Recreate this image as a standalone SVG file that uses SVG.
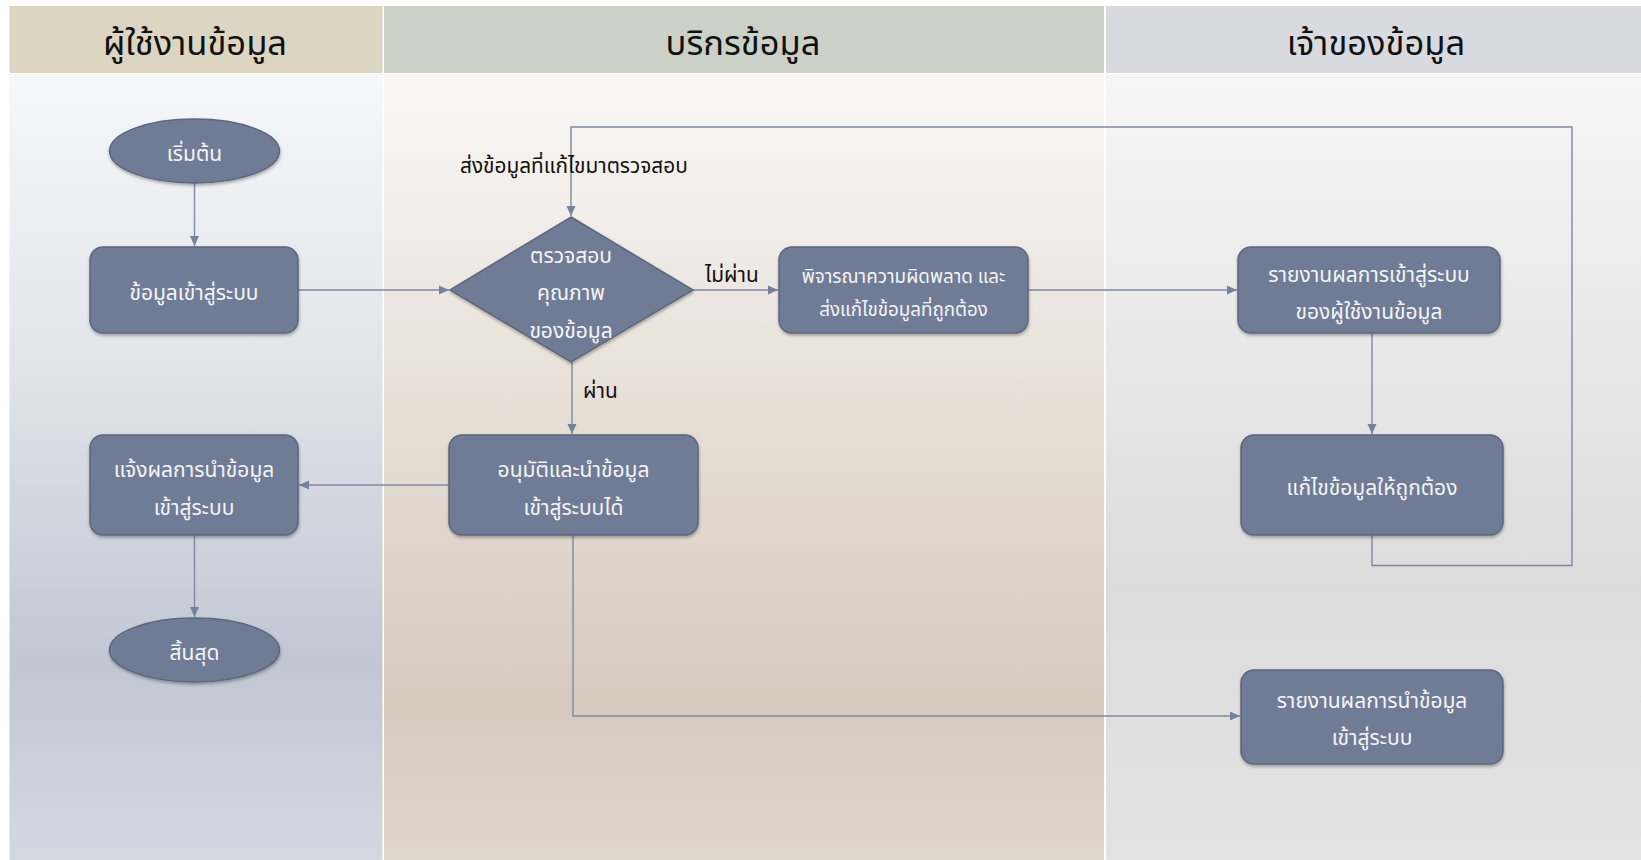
<svg xmlns="http://www.w3.org/2000/svg" width="1641" height="860" viewBox="0 0 1641 860">
<defs>
<style>
.hdr{font-family:"Noto Sans Thai","Noto Sans","DejaVu Sans",sans-serif;font-size:34.5px;fill:#111;text-anchor:middle}
.node{fill:#707C96;stroke:#5C667E;stroke-width:1.5;filter:url(#sh)}
.nt{font-family:"Noto Sans Thai","Noto Sans","DejaVu Sans",sans-serif;font-size:21px;fill:#F4F4F6;text-anchor:middle}
.sm{font-size:18.8px}
.lbl{font-family:"Noto Sans Thai","Noto Sans","DejaVu Sans",sans-serif;font-size:20.8px;fill:#111}
.con{fill:none;stroke:#8089A2;stroke-width:1.4}
</style>
<linearGradient id="g1" x1="0" y1="0" x2="0" y2="1">
<stop offset="0" stop-color="#F6F7F9"/><stop offset="0.35" stop-color="#E2E5EB"/><stop offset="0.75" stop-color="#C1C7D3"/><stop offset="1" stop-color="#D3D8E1"/>
</linearGradient>
<linearGradient id="g2" x1="0" y1="0" x2="0" y2="1">
<stop offset="0" stop-color="#F9F8F6"/><stop offset="0.4" stop-color="#E8E0D8"/><stop offset="0.8" stop-color="#D6CABF"/><stop offset="1" stop-color="#DFD6CD"/>
</linearGradient>
<linearGradient id="g3" x1="0" y1="0" x2="0" y2="1">
<stop offset="0" stop-color="#F6F6F6"/><stop offset="0.65" stop-color="#DCDCDC"/><stop offset="1" stop-color="#E3E3E3"/>
</linearGradient>
<filter id="sh" x="-10%" y="-10%" width="120%" height="130%">
<feDropShadow dx="0.5" dy="2" stdDeviation="1.5" flood-color="#000" flood-opacity="0.3"/>
</filter>
<marker id="ah" viewBox="0 0 10 10" refX="10" refY="5" markerWidth="10" markerHeight="10" markerUnits="userSpaceOnUse" orient="auto">
<path d="M0,0.5 L10,5 L0,9.5 Z" fill="#7482A0"/>
</marker>
</defs>
<rect width="1641" height="860" fill="#FFFFFF"/>
<g id="lanes">
<rect x="9.5" y="74" width="373" height="786" fill="url(#g1)"/>
<rect x="384" y="74" width="720" height="786" fill="url(#g2)"/>
<rect x="1106" y="74" width="535" height="786" fill="url(#g3)"/>
<rect x="9.5" y="6" width="373" height="67" fill="#DCD5C1"/>
<rect x="384" y="6" width="720" height="67" fill="#CBD1C6"/>
<rect x="1106" y="6" width="535" height="67" fill="#D9DAE0"/>
<text class="hdr" x="195" y="55">ผู้ใช้งานข้อมูล</text>
<text class="hdr" x="743" y="55">บริกรข้อมูล</text>
<text class="hdr" x="1376" y="55">เจ้าของข้อมูล</text>
</g>
<g id="connectors">
<path class="con" d="M194.5 183 V246" marker-end="url(#ah)"/>
<path class="con" d="M298 290 H449" marker-end="url(#ah)"/>
<path class="con" d="M693 290 H778" marker-end="url(#ah)"/>
<path class="con" d="M1028 290 H1237" marker-end="url(#ah)"/>
<path class="con" d="M1372 333 V434" marker-end="url(#ah)"/>
<path class="con" d="M1372 535 V565.5 H1572 V127 H571 V216" marker-end="url(#ah)"/>
<path class="con" d="M572 362 V434" marker-end="url(#ah)"/>
<path class="con" d="M449 485 H299" marker-end="url(#ah)"/>
<path class="con" d="M194.5 535 V617" marker-end="url(#ah)"/>
<path class="con" d="M573 535 V716 H1240" marker-end="url(#ah)"/>
<text class="lbl" x="460" y="173">ส่งข้อมูลที่แก้ไขมาตรวจสอบ</text>
<text class="lbl" x="705" y="282">ไม่ผ่าน</text>
<text class="lbl" x="583" y="398">ผ่าน</text>
</g>
<g id="start">
<ellipse class="node" cx="194.5" cy="151" rx="85" ry="32"/>
<text class="nt" x="194.5" y="161">เริ่มต้น</text>
</g>
<g id="input">
<rect class="node" x="90" y="247" width="208" height="86" rx="13"/>
<text class="nt" x="194" y="300">ข้อมูลเข้าสู่ระบบ</text>
</g>
<g id="check">
<path class="node" d="M571 217 L693 290 L571 362 L450 290 Z"/>
<text class="nt" x="571" y="263">ตรวจสอบ</text>
<text class="nt" x="571" y="300">คุณภาพ</text>
<text class="nt" x="571" y="338">ของข้อมูล</text>
</g>
<g id="consider">
<rect class="node" x="779" y="247" width="249" height="86" rx="13"/>
<text class="nt sm" x="903.5" y="283">พิจารณาความผิดพลาด และ</text>
<text class="nt sm" x="903.5" y="316">ส่งแก้ไขข้อมูลที่ถูกต้อง</text>
</g>
<g id="report">
<rect class="node" x="1238" y="247" width="262" height="86" rx="13"/>
<text class="nt" x="1369" y="282">รายงานผลการเข้าสู่ระบบ</text>
<text class="nt" x="1369" y="319">ของผู้ใช้งานข้อมูล</text>
</g>
<g id="fix">
<rect class="node" x="1241" y="435" width="262" height="100" rx="13"/>
<text class="nt" x="1372" y="495">แก้ไขข้อมูลให้ถูกต้อง</text>
</g>
<g id="approve">
<rect class="node" x="449" y="435" width="249" height="100" rx="13"/>
<text class="nt" x="573.5" y="477">อนุมัติและนำข้อมูล</text>
<text class="nt" x="573.5" y="515">เข้าสู่ระบบได้</text>
</g>
<g id="notify">
<rect class="node" x="90" y="435" width="208" height="100" rx="13"/>
<text class="nt" x="194" y="477">แจ้งผลการนำข้อมูล</text>
<text class="nt" x="194" y="515">เข้าสู่ระบบ</text>
</g>
<g id="end">
<ellipse class="node" cx="194.5" cy="650" rx="85" ry="32"/>
<text class="nt" x="194.5" y="660">สิ้นสุด</text>
</g>
<g id="reportimport">
<rect class="node" x="1241" y="670" width="262" height="94" rx="13"/>
<text class="nt" x="1372" y="708">รายงานผลการนำข้อมูล</text>
<text class="nt" x="1372" y="745">เข้าสู่ระบบ</text>
</g>
</svg>
